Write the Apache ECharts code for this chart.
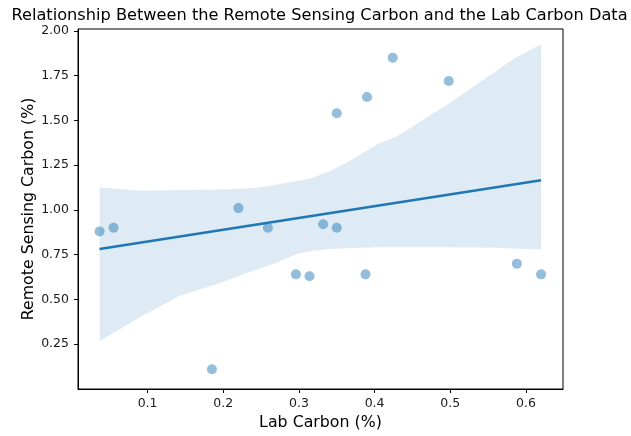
<!DOCTYPE html>
<html>
<head>
<meta charset="utf-8">
<script src="https://cdn.jsdelivr.net/npm/echarts@6/dist/echarts.min.js"></script>
<style>
  html, body { margin: 0; padding: 0; background: #ffffff; }
  #chart { width: 631px; height: 436px; }
</style>
</head>
<body>
<div id="chart"></div>
<script>
// Sample measurements: lab-measured carbon vs. remote-sensing estimate (%)
const labCarbon = [0.0365, 0.055, 0.220, 0.185, 0.259, 0.296, 0.314, 0.332,
                   0.350, 0.350, 0.390, 0.388, 0.424, 0.498, 0.588, 0.620];
const remoteCarbon = [0.88, 0.90, 1.01, 0.11, 0.90, 0.64, 0.63, 0.92,
                      0.90, 1.54, 1.63, 0.64, 1.85, 1.72, 0.70, 0.64];

// 95% confidence band of the regression (bootstrap estimate)
const bandX = [0.0365, 0.0894, 0.1423, 0.1952, 0.2306, 0.2481, 0.2746, 0.296,
               0.3183, 0.3407, 0.3628, 0.3844, 0.4069, 0.4290, 0.4505, 0.4730,
               0.4951, 0.5167, 0.5392, 0.5612, 0.5828, 0.620];
const bandUpper = [1.125, 1.107, 1.111, 1.114, 1.120, 1.125, 1.144, 1.160,
                   1.180, 1.217, 1.263, 1.318, 1.373, 1.410, 1.465, 1.529,
                   1.584, 1.648, 1.713, 1.777, 1.841, 1.923];
const bandLower = [0.267, 0.400, 0.520, 0.590, 0.648, 0.672, 0.712, 0.752,
                   0.772, 0.782, 0.786, 0.789, 0.791, 0.791, 0.791, 0.791,
                   0.791, 0.790, 0.790, 0.788, 0.784, 0.779];

// Axis ticks
const xTicks = [0.1, 0.2, 0.3, 0.4, 0.5, 0.6];
const yTicks = [0.25, 0.5, 0.75, 1.0, 1.25, 1.5, 1.75, 2.0];

// Ordinary least-squares fit of remote vs. lab carbon
function linearFit(xs, ys) {
  const n = xs.length;
  const mx = xs.reduce((a, b) => a + b, 0) / n;
  const my = ys.reduce((a, b) => a + b, 0) / n;
  let sxy = 0, sxx = 0;
  for (let i = 0; i < n; i++) {
    sxy += (xs[i] - mx) * (ys[i] - my);
    sxx += (xs[i] - mx) * (xs[i] - mx);
  }
  const slope = sxy / sxx;
  return { slope, intercept: my - slope * mx };
}
const fit = linearFit(labCarbon, remoteCarbon);
const xMin = Math.min(...labCarbon), xMax = Math.max(...labCarbon);
const fitLine = [xMin, xMax].map(x => [x, fit.intercept + fit.slope * x]);

const blue = '#1f77b4';
const font = 'DejaVu Sans';

const chart = echarts.init(document.getElementById('chart'), null, { renderer: 'canvas' });
chart.setOption({
  animation: false,
  backgroundColor: '#ffffff',
  graphic: [{
    type: 'text',
    x: 319.5,
    y: 16,
    style: {
      text: 'Relationship Between the Remote Sensing Carbon and the Lab Carbon Data',
      fontFamily: font, fontSize: 16.2, fill: '#000',
      textAlign: 'center', textVerticalAlign: 'middle'
    }
  }],
  grid: {
    left: 78, right: 68, top: 29, bottom: 41,
    show: true, borderColor: '#000', borderWidth: 1, backgroundColor: 'transparent'
  },
  xAxis: {
    type: 'value',
    min: 0.008, max: 0.649,
    name: 'Lab Carbon (%)',
    nameLocation: 'middle',
    nameGap: 26,
    nameMoveOverlap: false,
    nameTextStyle: { fontFamily: font, fontSize: 15.8, color: '#000' },
    splitLine: { show: false },
    axisLine: { show: true, onZero: false, lineStyle: { color: '#000', width: 1 } },
    axisTick: { show: true, inside: false, length: 4, customValues: xTicks, lineStyle: { color: '#000' } },
    axisLabel: {
      customValues: xTicks, margin: 8,
      fontFamily: font, fontSize: 12.5, color: '#1a1a1a',
      formatter: v => v.toFixed(1)
    }
  },
  yAxis: {
    type: 'value',
    min: 0.0, max: 2.01,
    name: 'Remote Sensing Carbon (%)',
    nameLocation: 'middle',
    nameGap: 41,
    nameMoveOverlap: false,
    nameTextStyle: { fontFamily: font, fontSize: 15.8, color: '#000' },
    splitLine: { show: false },
    axisLine: { show: true, onZero: false, lineStyle: { color: '#000', width: 1 } },
    axisTick: { show: true, inside: false, length: 4, customValues: yTicks, lineStyle: { color: '#000' } },
    axisLabel: {
      customValues: yTicks, margin: 9,
      fontFamily: font, fontSize: 12.5, color: '#1a1a1a',
      formatter: v => v.toFixed(2)
    }
  },
  series: [
    {
      name: 'samples',
      type: 'scatter',
      symbol: 'circle',
      symbolSize: 10,
      itemStyle: { color: 'rgba(31,119,180,0.6)' },
      data: labCarbon.map((x, i) => [x, remoteCarbon[i]])
    },
    {
      // confidence band drawn as one polygon: upper edge left→right, lower edge right→left
      name: 'ci-band',
      type: 'custom',
      silent: true,
      renderItem: function (params, api) {
        const upper = bandX.map((x, i) => api.coord([x, bandUpper[i]]));
        const lower = bandX.map((x, i) => api.coord([x, bandLower[i]])).reverse();
        return {
          type: 'polygon',
          shape: { points: upper.concat(lower) },
          style: { fill: 'rgba(31,119,180,0.15)', stroke: null }
        };
      },
      data: [[bandX[0], bandLower[0]]]
    },
    {
      name: 'fit',
      type: 'line',
      symbol: 'none',
      lineStyle: { color: blue, width: 2.6 },
      data: fitLine
    }
  ]
});
</script>
</body>
</html>
